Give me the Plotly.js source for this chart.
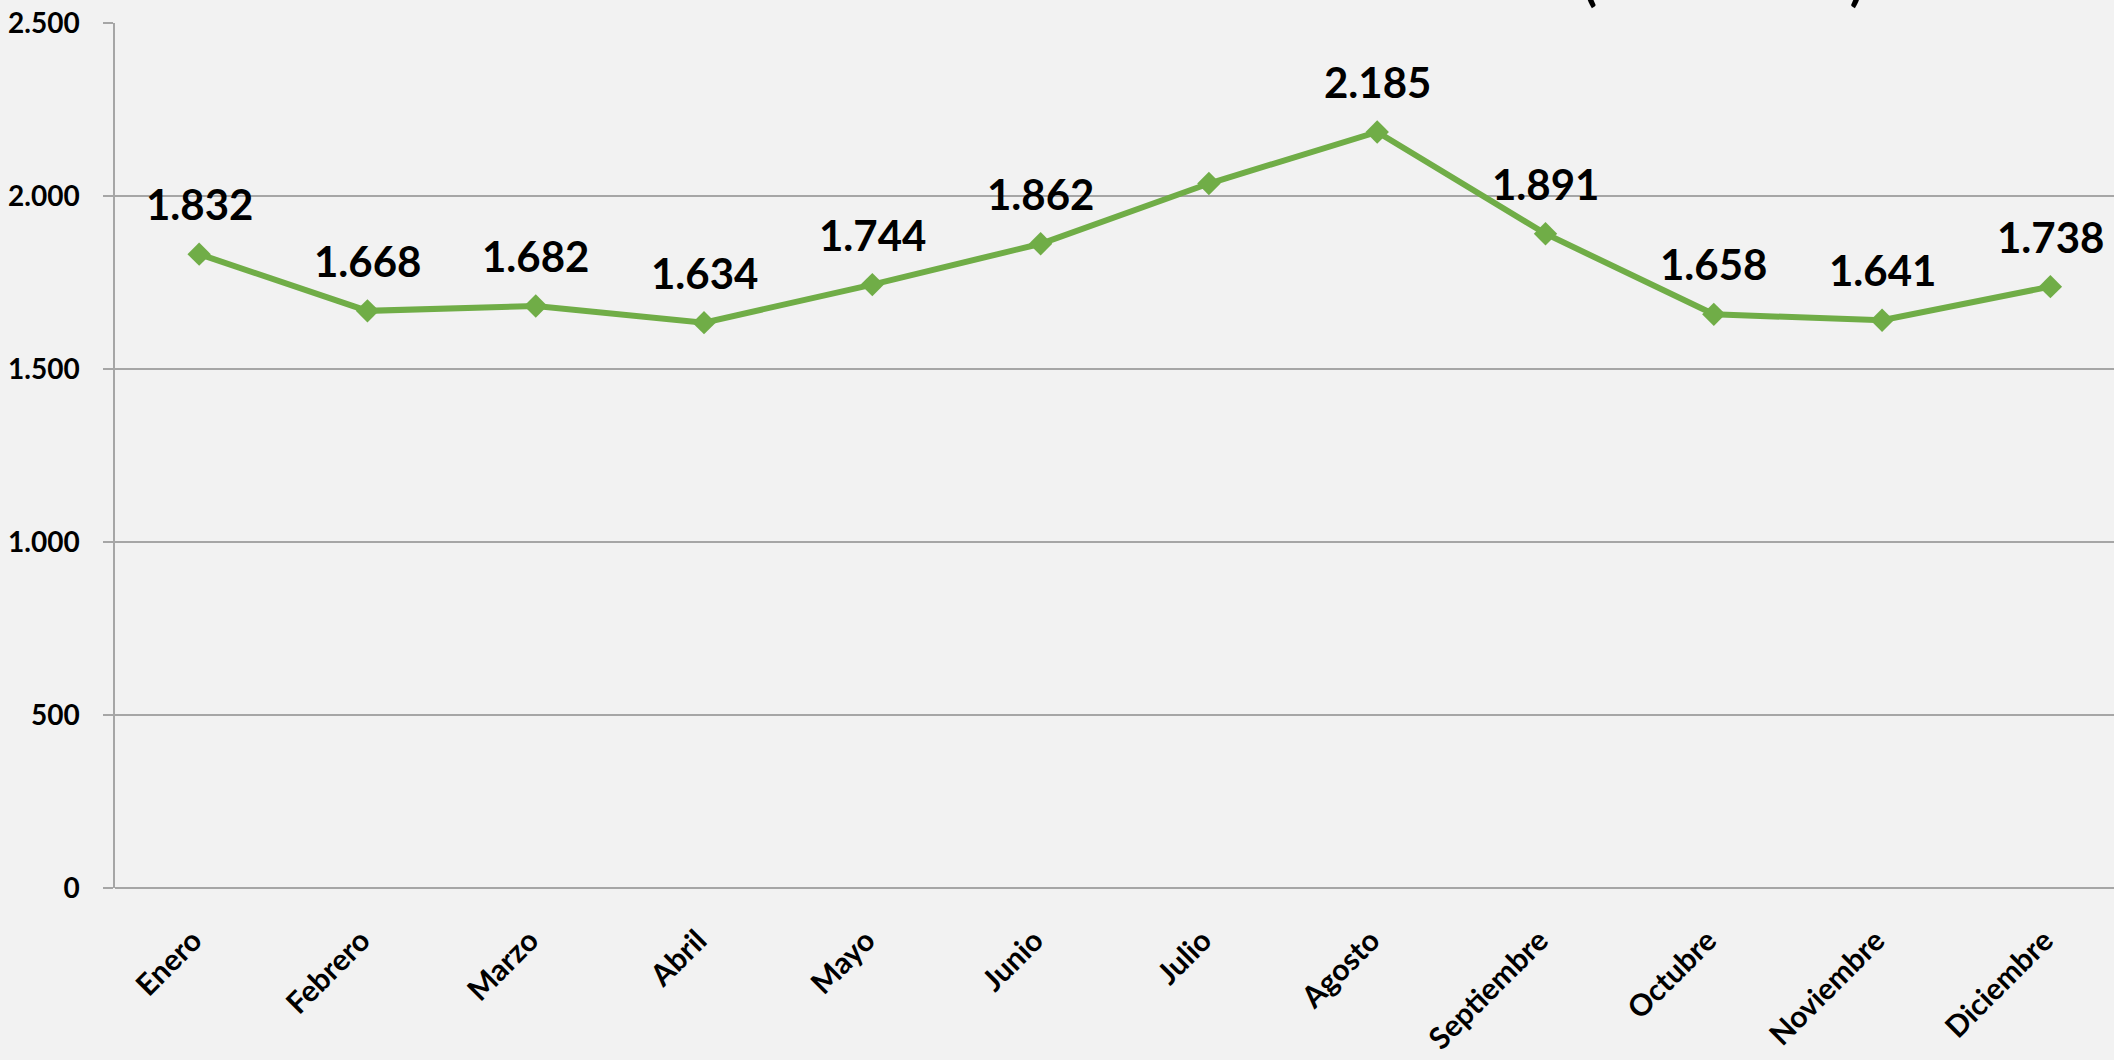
<!DOCTYPE html>
<html>
<head>
<meta charset="utf-8">
<script src="https://cdn.plot.ly/plotly-3.0.1.min.js"></script>
<style>
html,body{margin:0;padding:0;background:#F2F2F2;}
#chart{width:2114px;height:1060px;}
</style>
</head>
<body>
<div id="chart"></div>
<script>
// ---- data ----
const months = ['Enero','Febrero','Marzo','Abril','Mayo','Junio','Julio','Agosto','Septiembre','Octubre','Noviembre','Diciembre'];
const values = [1832, 1668, 1682, 1634, 1744, 1862, 2036, 2185, 1891, 1658, 1641, 1738];
const yTickValues = [0, 500, 1000, 1500, 2000, 2500];
const yTickLabels = ['0', '500', '1.000', '1.500', '2.000', '2.500'];
const titleText = '(MILLONES)';

// ---- label configuration ----
const hiddenLabels = ['Julio'];

function fmt(v){ return String(v).replace(/\B(?=(\d{3})+(?!\d))/g, '.'); }

const green = '#70AD47';
const font = 'Lato, "Open Sans", sans-serif';

const trace = {
  x: months,
  y: values,
  type: 'scatter',
  mode: 'lines+markers',
  line: {color: green, width: 6},
  marker: {symbol: 'diamond', size: 18, color: green},
  hoverinfo: 'x+y',
  cliponaxis: false
};

const annotations = [];
months.forEach((m, i) => {
  if (hiddenLabels.includes(m)) return;
  annotations.push({
    x: m, y: values[i], xref: 'x', yref: 'y',
    text: '<b>' + fmt(values[i]) + '</b>',
    showarrow: false, xanchor: 'center', yanchor: 'middle',
    yshift: 50,
    font: {family: font, size: 42, color: '#000000'}
  });
});
annotations.push({
  x: 0.876, y: 1, xref: 'paper', yref: 'paper',
  text: '<b>' + titleText + '</b>',
  showarrow: false, xanchor: 'right', yanchor: 'bottom', yshift: 10,
  font: {family: font, size: 51, color: '#000000'}
});

const layout = {
  width: 2114, height: 1060,
  paper_bgcolor: '#F2F2F2', plot_bgcolor: '#F2F2F2',
  margin: {l: 115, r: 0, t: 23, b: 172},
  showlegend: false,
  xaxis: {
    type: 'category',
    range: [-0.5, 11.378],
    showgrid: false,
    showline: false,
    zeroline: false,
    ticks: '',
    tickangle: -45,
    ticklabelstandoff: 28,
    ticklabelshift: -6,
    tickfont: {family: font, size: 30, color: '#000000', weight: 'bold'}
  },
  yaxis: {
    range: [0, 2500],
    tickvals: yTickValues,
    ticktext: yTickLabels,
    showgrid: true,
    gridcolor: '#A6A6A6',
    gridwidth: 1.5,
    zeroline: true,
    zerolinecolor: '#A6A6A6',
    zerolinewidth: 1.5,
    showline: true,
    linecolor: '#A6A6A6',
    linewidth: 1.5,
    ticks: 'outside',
    ticklen: 10,
    tickcolor: '#A6A6A6',
    tickwidth: 1.5,
    ticklabelstandoff: 18,
    tickfont: {family: font, size: 28, color: '#000000', weight: 'bold'}
  },
  annotations: annotations
};

Plotly.newPlot('chart', [trace], layout, {displayModeBar: false});
</script>
</body>
</html>
